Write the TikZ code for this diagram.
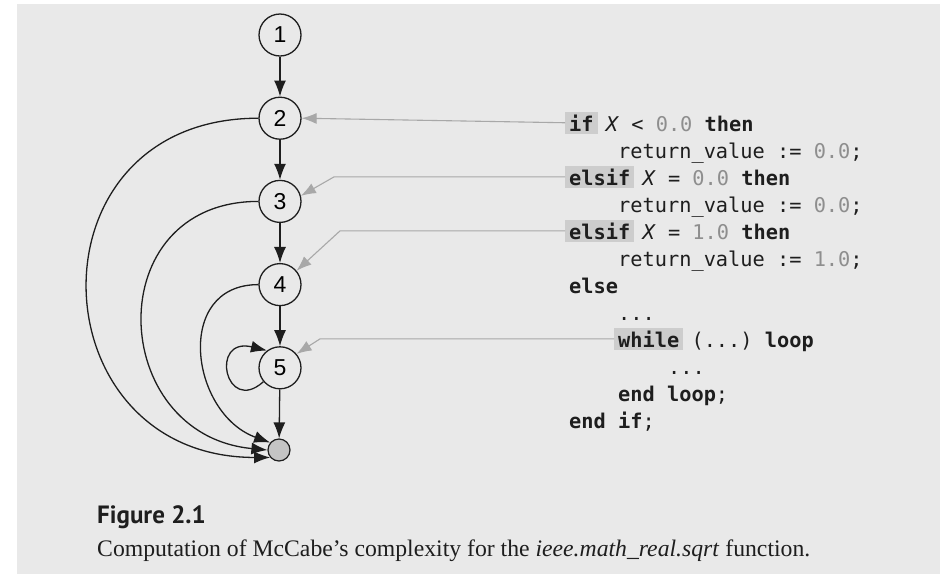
\documentclass[tikz,border=0pt]{standalone}
\usepackage{fontspec}
\setmainfont{Liberation Serif}
\setmonofont{DejaVu Sans Mono}
\newfontfamily\figfont{PT Sans}
\newfontfamily\numfont{Liberation Sans}
\usetikzlibrary{arrows.meta,positioning,calc}
\definecolor{PageGray}{HTML}{E9E9E9}
\definecolor{HiGray}{HTML}{CDCDCD}
\definecolor{PtrGray}{HTML}{A8A8A8}
\definecolor{LitGray}{HTML}{8E8E8E}
\definecolor{Ink}{HTML}{1E1E1E}
\definecolor{SinkGray}{HTML}{C4C4C4}
\newcommand{\kw}[1]{\textbf{#1}}
\newcommand{\lit}[1]{\textcolor{LitGray}{#1}}

\begin{document}
\begin{tikzpicture}[x=1pt,y=-1pt,
  state/.style={circle,draw=Ink,line width=1.3pt,minimum size=42pt,inner sep=0pt,fill=PageGray,font=\numfont\fontsize{23}{23}\selectfont},
  sink/.style={circle,draw=Ink,line width=1.2pt,fill=SinkGray,minimum size=22pt,inner sep=0pt},
  flow/.style={Ink,line width=1.3pt,-{Latex[length=16pt,width=12pt]}},
  ptr/.style={PtrGray,line width=1.1pt,-{Latex[length=15pt,width=11pt]}},
  code/.style={anchor=base west,inner sep=0pt,text=Ink,font=\ttfamily\fontsize{20.3}{24}\selectfont},
  hl/.style={code,fill=HiGray,inner xsep=4pt,inner ysep=3pt}]
% page
\fill[white] (0,0) rectangle (940,574);
\fill[PageGray] (17,4) rectangle (940,574);
\useasboundingbox (0,0) rectangle (940,574);

% flow graph
\foreach \i in {1,...,5}
  \node[state] (n\i) at (280,{35+83.2*(\i-1)}) {\i};
\node[sink] (fin) at (279,450) {};
\foreach \i [count=\j from 2] in {1,...,4}
  \draw[flow] (n\i) -- (n\j);
\draw[flow] (n5) -- (fin);
\draw[flow] (n2.west) .. controls +(-235,0) and +(-235,0) .. (fin.220);
\draw[flow] (n3.west) .. controls +(-160,0) and +(-160,-15) .. (fin.180);
\draw[flow] (n4.west) .. controls +(-85,0) and +(-80,-29) .. (fin.140);
\draw[flow] (n5.220) .. controls +(-38,34) and +(-58,-14) .. (n5.127);

% code
\node[hl] (k1) at (565,131) {\phantom{\kw{if}}};
\node[hl] (k2) at (565,185) {\phantom{\kw{elsif}}};
\node[hl] (k3) at (565,239) {\phantom{\kw{elsif}}};
\node[hl] (k4) at (614,347) {\phantom{\kw{while}}};
\node[code] (l1) at (569,131) {\kw{if} \textit{X} < \lit{0.0} \kw{then}};
\node[code] (l2) at (618,158) {return\_value := \lit{0.0};};
\node[code] (l3) at (569,185) {\kw{elsif} \textit{X} = \lit{0.0} \kw{then}};
\node[code] (l4) at (618,212) {return\_value := \lit{0.0};};
\node[code] (l5) at (569,239) {\kw{elsif} \textit{X} = \lit{1.0} \kw{then}};
\node[code] (l6) at (618,266) {return\_value := \lit{1.0};};
\node[code] (l7) at (569,293) {\kw{else}};
\node[code] (l8) at (618,320) {...};
\node[code] (l9) at (618,347) {\kw{while} (...) \kw{loop}};
\node[code] (l10) at (668,374) {...};
\node[code] (l11) at (618,401) {\kw{end loop};};
\node[code] (l12) at (569,428) {\kw{end if};};

% pointers from code to graph
\draw[ptr] (k1.west) -- (n2.east);
\draw[ptr] (k2.west) -- ++(-231,0) -- (n3.15);
\draw[ptr] (k3.west) -- ++(-225,0) -- (n4.40);
\draw[ptr] (k4.west) -- ++(-294,0) -- (n5.40);

% caption
\node[anchor=base west,inner sep=0pt,text=Ink,font=\figfont\bfseries\fontsize{25}{28}\selectfont] (fig) at (97,523) {Figure 2.1};
\node[anchor=base west,inner sep=0pt,text=Ink,font=\fontsize{23.7}{27}\selectfont] (cap) at (97,556) {Computation of McCabe's complexity for the \textit{ieee.math\_real.sqrt} function.};
\end{tikzpicture}
\end{document}
